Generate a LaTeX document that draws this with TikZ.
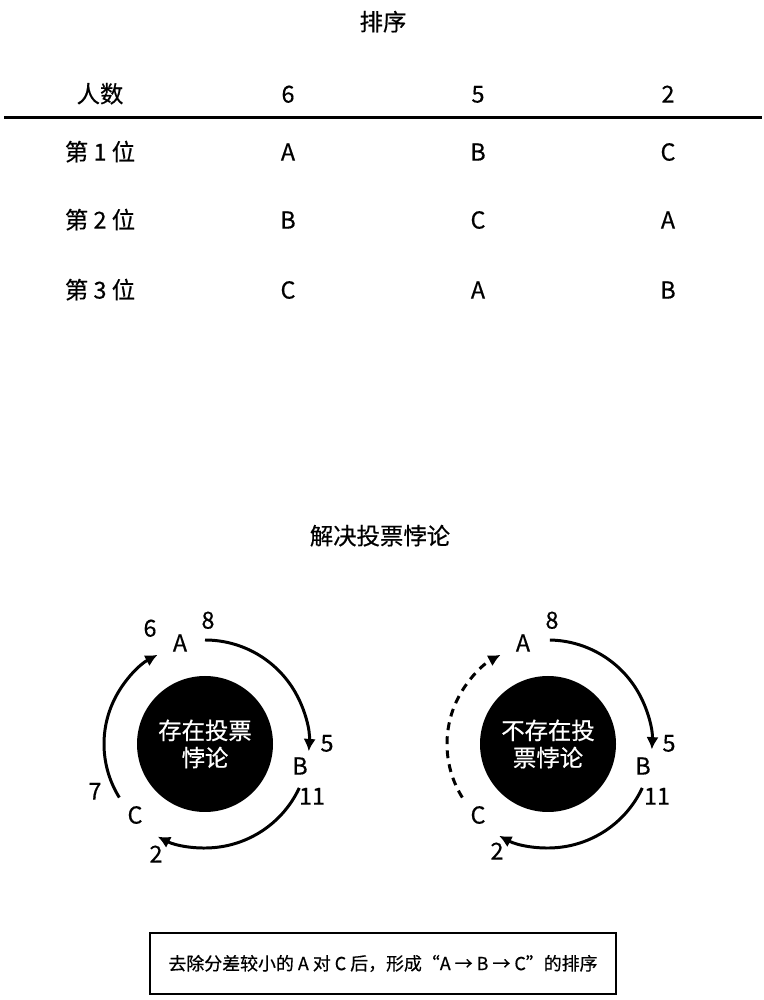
\documentclass[tikz,border=0pt]{standalone}
\usepackage{fontspec}
\setmainfont{Noto Sans CJK SC}[FakeBold=0.5]
\usetikzlibrary{positioning}
\usetikzlibrary{arrows.meta}
\tikzset{txt/.style={font=\fontsize{13.3}{15}\selectfont, text height=10pt, text depth=2.5pt, inner sep=0pt}}
\tikzset{core/.style={circle, fill=black, minimum size=2.72cm, inner sep=0pt, text=white, align=center, font=\fontsize{13.3}{15.5}\selectfont}}
\tikzset{flow/.style={line width=1.7pt, -{Latex[length=7pt,width=7pt]}}}
\tikzset{weak/.style={flow, dash pattern=on 4.5pt off 3.5pt}}

\begin{document}
\begin{tikzpicture}
\useasboundingbox (0,0) rectangle (15.28,20);
% table of rankings
\node[txt] (rank) at (7.66,19.52) {排序};
\node[txt] (head) at (2.0,18.08) {人数};
\node[txt] (head6) at (5.76,18.08) {6};
\node[txt] (head5) at (9.56,18.08) {5};
\node[txt] (head2) at (13.36,18.08) {2};
\draw[line width=1.7pt] (0.08,17.64) -- (15.24,17.64);
\foreach \r/\y/\p/\q/\s in {1/16.92/A/B/C, 2/15.56/B/C/A, 3/14.16/C/A/B} {
  \node[txt] (pos\r) at (2.0,\y) {第 \r{} 位};
  \node[txt] (pos\r a) at (5.76,\y) {\p};
  \node[txt] (pos\r b) at (9.56,\y) {\q};
  \node[txt] (pos\r c) at (13.36,\y) {\s};
}
\node[txt] (solve) at (7.6,9.24) {解决投票悖论};
% with paradox
\begin{scope}[shift={(4.1,5.12)}]
\node[core] (hubL) at (0,0) {存在投票\\悖论};
\node[txt] (aL) at (-0.5,1.98) {A};
\node[txt] (bL) at (1.9,-0.48) {B};
\node[txt] (cL) at (-1.4,-1.46) {C};
\node[txt] (abL) at (0.06,2.44) {8};
\node[txt] (baL) at (2.44,-0.02) {5};
\node[txt] (bcL) at (2.14,-1.08) {11};
\node[txt] (cbL) at (-0.98,-2.24) {2};
\node[txt] (caL) at (-2.2,-0.98) {7};
\node[txt] (acL) at (-1.1,2.28) {6};
\draw[flow] (hubL) ++(90:2.08) arc[start angle=90, end angle=-4, radius=2.08];
\draw[flow] (hubL) ++(-25:2.08) arc[start angle=-25, end angle=-117, radius=2.08];
\draw[flow] (hubL) ++(212:2.02) arc[start angle=212, end angle=118, radius=2.02];
\end{scope}
% without paradox
\begin{scope}[shift={(10.96,5.12)}]
\node[core] (hubR) at (0,0) {不存在投\\票悖论};
\node[txt] (aR) at (-0.5,1.98) {A};
\node[txt] (bR) at (1.9,-0.48) {B};
\node[txt] (cR) at (-1.4,-1.46) {C};
\node[txt] (abR) at (0.08,2.44) {8};
\node[txt] (baR) at (2.42,-0.02) {5};
\node[txt] (bcR) at (2.18,-1.08) {11};
\node[txt] (cbR) at (-1.02,-2.18) {2};
\draw[flow] (hubR) ++(89:2.08) arc[start angle=89, end angle=-3, radius=2.08];
\draw[flow] (hubR) ++(-25:2.08) arc[start angle=-25, end angle=-118, radius=2.08];
\draw[weak] (hubR) ++(212:2.02) arc[start angle=212, end angle=118, radius=2.02];
\end{scope}
\node[draw, line width=0.8pt, minimum width=9.32cm, minimum height=1.22cm, font=\fontsize{10.2}{12}\selectfont] (note) at (7.66,0.73) {去除分差较小的 A 对 C 后，形成“A → B → C”的排序};
\end{tikzpicture}
\end{document}
